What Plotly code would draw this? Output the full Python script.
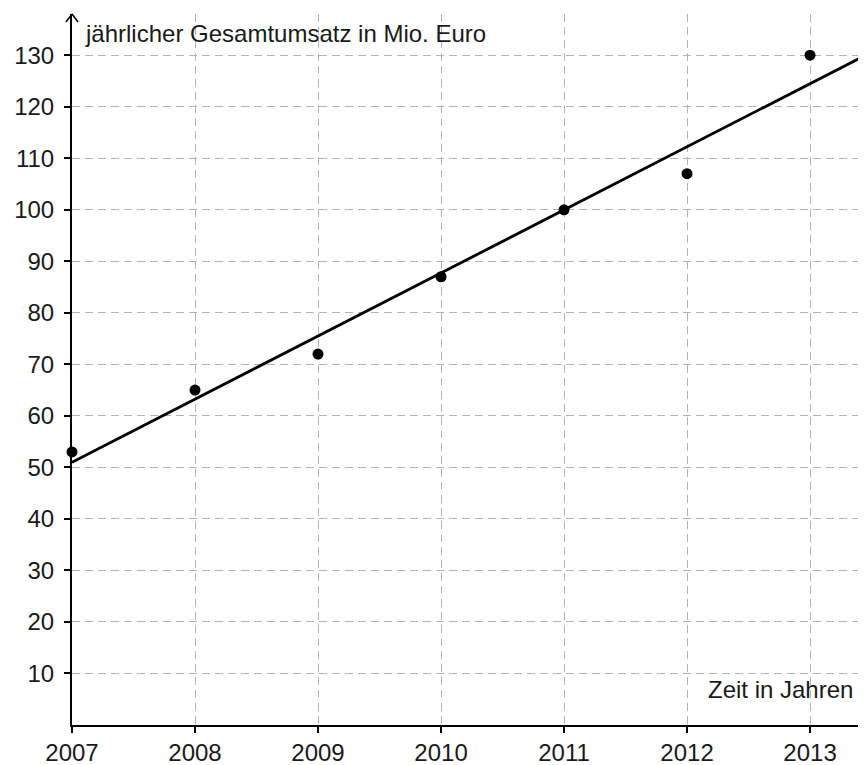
import plotly.graph_objects as go

# Data
years = [2007, 2008, 2009, 2010, 2011, 2012, 2013]
umsatz = [53, 65, 72, 87, 100, 107, 130]
trend_x = [2007, 2013.5]
trend_y = [51.0, 130.6]
x_ticks = [2007, 2008, 2009, 2010, 2011, 2012, 2013]
y_ticks = [10, 20, 30, 40, 50, 60, 70, 80, 90, 100, 110, 120, 130]
y_label = "jährlicher Gesamtumsatz in Mio. Euro"
x_label = "Zeit in Jahren"

FONT = "Liberation Sans, Arial, Helvetica, sans-serif"
GRID = "#b3b3b3"
TXT = "#1a1a1a"

fig = go.Figure()
fig.add_trace(go.Scatter(x=trend_x, y=trend_y, mode="lines",
                         line=dict(color="black", width=2.8), hoverinfo="skip"))
fig.add_trace(go.Scatter(x=years, y=umsatz, mode="markers",
                         marker=dict(color="black", size=11), cliponaxis=False))

# page body has an 8px default margin -> compensate
fig.update_layout(
    width=858, height=757,
    margin=dict(l=64, r=0, t=6, b=40, autoexpand=False),
    paper_bgcolor="white", plot_bgcolor="white",
    showlegend=False,
    font=dict(family=FONT, size=24, color=TXT),
    xaxis=dict(range=[2007, 2013.455], tickvals=x_ticks, ticktext=[str(v) for v in x_ticks],
               showgrid=True, gridcolor=GRID, gridwidth=1, griddash="8px,5px",
               showline=True, linecolor="black", linewidth=2,
               ticks="outside", ticklen=6, tickwidth=2, tickcolor="black",
               tickfont=dict(size=24, color=TXT), ticklabelstandoff=-1,
               zeroline=False, fixedrange=True, automargin=False),
    yaxis=dict(range=[0, 138], tickvals=y_ticks, ticktext=[str(v) for v in y_ticks],
               showgrid=True, gridcolor=GRID, gridwidth=1, griddash="8px,5px",
               showline=True, linecolor="black", linewidth=2,
               ticks="outside", ticklen=6, tickwidth=2, tickcolor="black",
               tickfont=dict(size=24, color=TXT), ticklabelstandoff=5,
               zeroline=False, fixedrange=True, automargin=False),
)

# axis arrows (open arrowheads)
arrow = dict(type="line", line=dict(color="black", width=1.6), layer="above")
# y-axis arrow at top
fig.add_shape(**arrow, xref="paper", yref="paper", xsizemode="pixel", ysizemode="pixel",
              xanchor=0, yanchor=1, x0=-6, y0=-8, x1=0, y1=0)
fig.add_shape(**arrow, xref="paper", yref="paper", xsizemode="pixel", ysizemode="pixel",
              xanchor=0, yanchor=1, x0=6, y0=-8, x1=0, y1=0)
# x-axis arrow at right (mostly beyond the window edge)
fig.add_shape(**arrow, xref="paper", yref="paper", xsizemode="pixel", ysizemode="pixel",
              xanchor=1, yanchor=0, x0=-2, y0=6, x1=6, y1=0)
fig.add_shape(**arrow, xref="paper", yref="paper", xsizemode="pixel", ysizemode="pixel",
              xanchor=1, yanchor=0, x0=-2, y0=-6, x1=6, y1=0)

fig.add_annotation(text=y_label, xref="paper", yref="y", x=0, y=134.3,
                   xanchor="left", yanchor="middle", xshift=11, showarrow=False,
                   font=dict(family=FONT, size=24, color=TXT))
fig.add_annotation(text=x_label, xref="paper", yref="y", x=1, y=6.9,
                   xanchor="right", yanchor="middle", xshift=-11, showarrow=False,
                   font=dict(family=FONT, size=24, color=TXT))

fig.write_html("out.html")
